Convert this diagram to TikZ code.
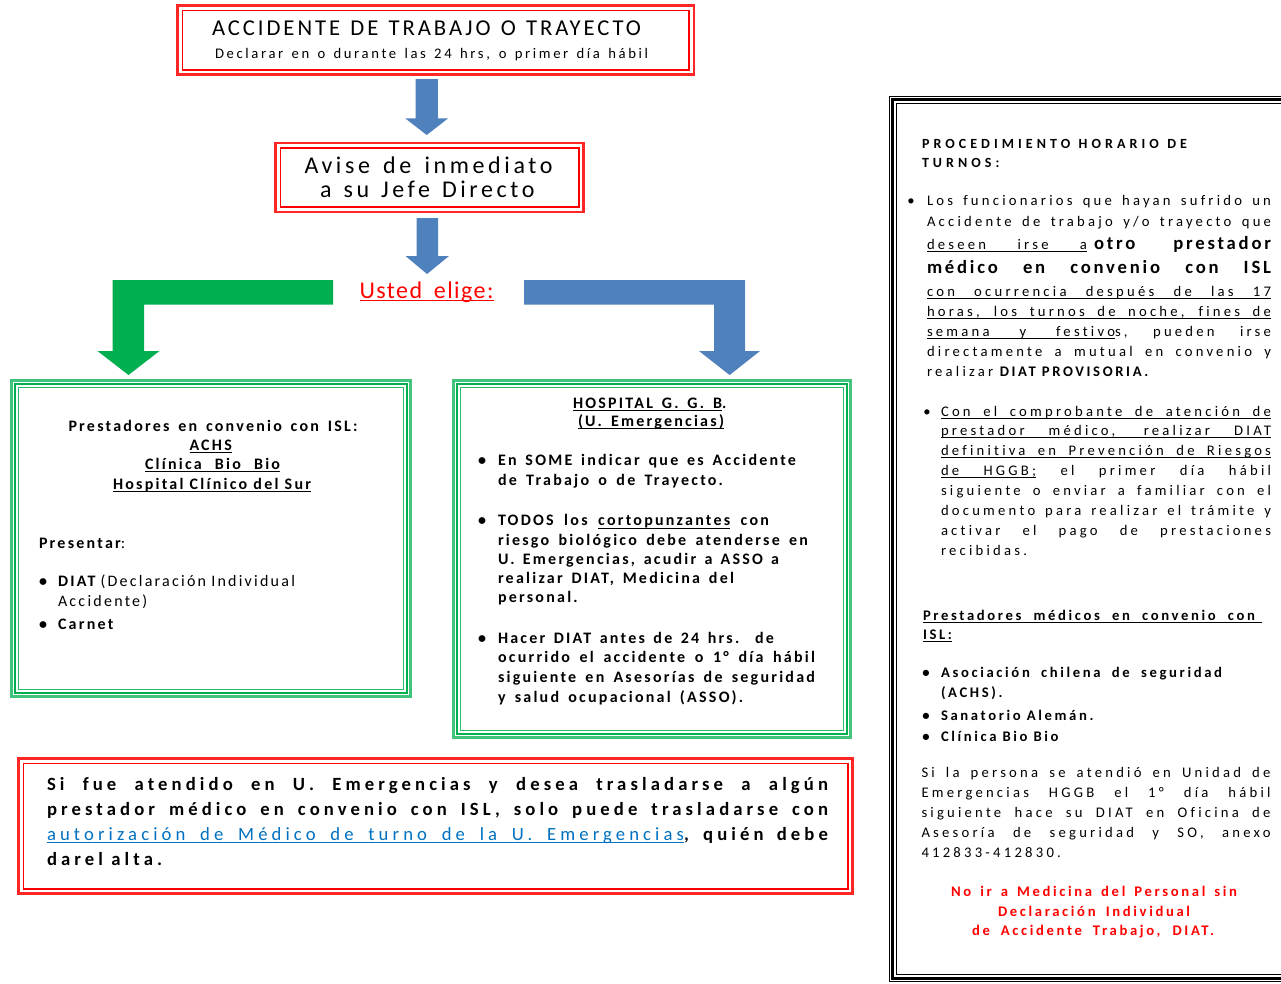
\documentclass[tikz,border=0pt]{standalone}
\usepackage{fontspec}
\setmainfont{Carlito}[Ligatures=NoCommon]
\usetikzlibrary{fit}
\definecolor{wred}{HTML}{FF0000}
\definecolor{wgreen}{HTML}{00B050}
\definecolor{wblue}{HTML}{4F81BD}
\definecolor{lblue}{HTML}{0070C0}
\newdimen\pxu \pxu=0.75pt
\newcommand\J[2]{\makebox[#1\pxu][s]{#2}}
\newcommand\ul[1]{{\setbox0=\hbox{#1}\rlap{\rule[-2.2pt]{\wd0}{0.85pt}}\box0}}
\newcommand\fTitle{\mdseries\fontsize{17}{20}\selectfont\addfontfeature{LetterSpace=13}}
\newcommand\fSub{\mdseries\fontsize{11}{13}\selectfont\addfontfeature{LetterSpace=18}}
\newcommand\fBig{\mdseries\fontsize{18}{21}\selectfont\addfontfeature{LetterSpace=15}}
\newcommand\fUst{\mdseries\fontsize{18}{21}\selectfont\addfontfeature{LetterSpace=6}}
\newcommand\fL{\bfseries\fontsize{12}{14}\selectfont\addfontfeature{LetterSpace=14}}
\newcommand\fLm{\mdseries\fontsize{12}{14}\selectfont\addfontfeature{LetterSpace=14}}
\newcommand\fM{\bfseries\fontsize{12}{14}\selectfont\addfontfeature{LetterSpace=14}}
\newcommand\fB{\bfseries\fontsize{14}{16}\selectfont\addfontfeature{LetterSpace=22}}
\newcommand\fBm{\mdseries\fontsize{14}{16}\selectfont\addfontfeature{LetterSpace=22}}
\newcommand\fR{\mdseries\fontsize{11}{13}\selectfont\addfontfeature{LetterSpace=22}}
\newcommand\fRb{\bfseries\fontsize{11}{13}\selectfont\addfontfeature{LetterSpace=18}}
\newcommand\fRh{\bfseries\fontsize{10.5}{12}\selectfont\addfontfeature{LetterSpace=29}}
\newcommand\fRB{\bfseries\fontsize{14}{16}\selectfont\addfontfeature{LetterSpace=15}}
\newcommand\fRr{\bfseries\fontsize{11}{13}\selectfont\addfontfeature{LetterSpace=18}}
\newcommand\redframe[1]{%
 \draw[wred!85, line width=1.8pt] ([shift={(1.6,1.6)}]#1.north west) rectangle ([shift={(-1.6,-1.6)}]#1.south east);
 \draw[wred, line width=1.2pt] ([shift={(6.3,6.3)}]#1.north west) rectangle ([shift={(-6.3,-6.3)}]#1.south east);}
\newcommand\greenframe[1]{%
 \draw[wgreen!75, line width=1.9pt] ([shift={(1.5,1.5)}]#1.north west) rectangle ([shift={(-1.5,-1.5)}]#1.south east);
 \draw[wgreen, line width=1.5pt] ([shift={(5.2,5.2)}]#1.north west) rectangle ([shift={(-5.2,-5.2)}]#1.south east);
 \draw[wgreen!85, line width=1.1pt] ([shift={(8.5,8.5)}]#1.north west) rectangle ([shift={(-8.5,-8.5)}]#1.south east);}
\newcommand\blackframe[1]{%
 \draw[black, line width=0.9pt] ([shift={(0.5,0.5)}]#1.north west) rectangle ([shift={(-0.5,-0.5)}]#1.south east);
 \draw[black, line width=2.25pt] ([shift={(3.5,3.5)}]#1.north west) rectangle ([shift={(-3.5,-3.5)}]#1.south east);
 \draw[black, line width=0.9pt] ([shift={(7.5,7.5)}]#1.north west) rectangle ([shift={(-7.5,-7.5)}]#1.south east);}
\tikzset{
 tx/.style={anchor=base west, inner sep=0pt, outer sep=0pt},
 bul/.style={anchor=base, inner sep=0pt, outer sep=0pt},
 blockarrow/.style={fill=wblue, draw=none},
 greenarrow/.style={fill=wgreen, draw=none},
 frame/.style={inner sep=0pt, outer sep=0pt}
}
\begin{document}
\begin{tikzpicture}[x=0.75pt,y=-0.75pt]
\fill[white] (0,0) rectangle (1281,983);
\useasboundingbox (0,0) rectangle (1281,983);

% ---------- boxes ----------
\node[frame, fit={(176,4)(695.5,76)}] (boxA) {};
\node[frame, fit={(274,141.5)(585,213.3)}] (boxB) {};
\node[frame, fit={(10,379)(412,698)}] (boxL) {};
\node[frame, fit={(452,379)(852,739)}] (boxM) {};
\node[frame, fit={(17,757)(854,895)}] (boxC) {};
\node[frame, fit={(889,96)(1300,982)}] (boxR) {};
\redframe{boxA}
\redframe{boxB}
\redframe{boxC}
\greenframe{boxL}
\greenframe{boxM}
\begin{scope}
\clip (0,0) rectangle (1281,983);
\blackframe{boxR}
\end{scope}

% ---------- block arrows ----------
\fill[blockarrow] (415.5,79) -- (437.9,79) -- (437.9,118.3) -- (448.2,118.3) -- (426.7,135) -- (405.2,118.3) -- (415.5,118.3) -- cycle;
\fill[blockarrow] (416.5,218) -- (438,218) -- (438,256) -- (449,256) -- (427,274) -- (405.5,256) -- (416.5,256) -- cycle;
\fill[greenarrow] (333,280) -- (112.7,280) -- (112.7,351) -- (97.5,351) -- (128.5,375) -- (159.5,351) -- (144,351) -- (144,304.5) -- (333,304.5) -- cycle;
\fill[blockarrow] (524,280) -- (745,280) -- (745,351) -- (760,351) -- (729.6,375) -- (699,351) -- (714,351) -- (714,304.5) -- (524,304.5) -- cycle;

% ---------- top boxes ----------
\node[tx, font=\fTitle] (t1) at (212,35) {\J{429}{ACCIDENTE DE TRABAJO O TRAYECTO}};
\node[tx, font=\fSub] (t2) at (215,58.5) {\J{433}{Declarar en o durante las 24 hrs, o primer día hábil}};
\node[tx, font=\fBig] (b1) at (304.5,173.3) {\J{248}{Avise de inmediato}};
\node[tx, font=\fBig] (b2) at (320,197) {\J{214.5}{a su Jefe Directo}};
\node[tx, font=\fUst, text=wred] (u1) at (359.5,298.3) {\ul{\J{134}{Usted elige:}}};

% ---------- left box ----------
\node[tx, font=\fL] (l1) at (68.5,431) {\J{289}{Prestadores en convenio con ISL:}};
\node[tx, font=\fL] (l2) at (189.5,450) {\ul{ACHS}};
\node[tx, font=\fL] (l3) at (145,469) {\ul{\J{135}{Clínica Bio Bio}}};
\node[tx, font=\fL] (l4) at (113,489) {\ul{\J{198}{Hospital Clínico del Sur}}};
\node[tx, font=\fL] (l5) at (39,548) {Presentar{\fLm:}};
\node[bul, font=\fL] (lb1) at (43,586) {•};
\node[tx, font=\fL] (l6) at (58,586) {\J{237}{DIAT {\fLm (Declaración Individual}}};
\node[tx, font=\fLm] (l7) at (58,606) {Accidente)};
\node[bul, font=\fL] (lb2) at (43,629) {•};
\node[tx, font=\fL] (l8) at (58,629) {Carnet};

% ---------- middle box ----------
\node[tx, font=\fM] (m1) at (573,408.3) {\ul{\J{149}{HOSPITAL G. G. B}}.};
\node[tx, font=\fM] (m2) at (578,426) {\ul{\J{146}{(U. Emergencias)}}};
\node[bul, font=\fM] (mb1) at (482,465) {•};
\node[tx, font=\fM] (m3) at (498,465) {\J{298}{En SOME indicar que es Accidente}};
\node[tx, font=\fM] (m4) at (498,485) {\J{225}{de Trabajo o de Trayecto.}};
\node[bul, font=\fM] (mb2) at (482,525.7) {•};
\node[tx, font=\fM] (m5) at (498,525.7) {\J{271}{TODOS los \ul{cortopunzantes} con}};
\node[tx, font=\fM] (m6) at (498,545) {\J{310}{riesgo biológico debe atenderse en}};
\node[tx, font=\fM] (m7) at (498,564.3) {\J{281}{U. Emergencias, acudir a ASSO a}};
\node[tx, font=\fM] (m8) at (498,583.3) {\J{236}{realizar DIAT, Medicina del}};
\node[tx, font=\fM] (m9) at (498,602.7) {personal.};
\node[bul, font=\fM] (mb3) at (482,643.3) {•};
\node[tx, font=\fM] (m10) at (498,643.3) {\J{276}{Hacer DIAT antes de 24 hrs. de}};
\node[tx, font=\fM] (m11) at (498,662.7) {\J{317}{ocurrido el accidente o 1° día hábil}};
\node[tx, font=\fM] (m12) at (498,682.3) {\J{317}{siguiente en Asesorías de seguridad}};
\node[tx, font=\fM] (m13) at (498,702.3) {\J{245}{y salud ocupacional (ASSO).}};

% ---------- bottom box ----------
\node[tx, font=\fB] (o1) at (47,790) {\J{781}{Si fue atendido en U. Emergencias y desea trasladarse a algún}};
\node[tx, font=\fB] (o2) at (47,815) {\J{781}{prestador médico en convenio con ISL, solo puede trasladarse con}};
\node[tx, font=\fB] (o3) at (47,840) {\J{781}{{\fBm\color{lblue}\ul{\J{637}{autorización de Médico de turno de la U. Emergencias}}}, quién debe}};
\node[tx, font=\fB] (o4) at (47,865) {darel alta.};

% ---------- right box ----------
\node[tx, font=\fRh] (h1) at (922,148) {\J{265}{PROCEDIMIENTO HORARIO DE}};
\node[tx, font=\fRh] (h2) at (922,167) {TURNOS:};
\node[bul, font=\fR] (rb1) at (911,205) {•};
\node[tx, font=\fR] (r1) at (927,205) {\J{344}{Los funcionarios que hayan sufrido un}};
\node[tx, font=\fR] (r2) at (927,226) {\J{344}{Accidente de trabajo y/o trayecto que}};
\node[tx, font=\fR] (r3) at (927,249.5) {\J{344}{\ul{\J{160}{deseen irse a}}\hspace*{7\pxu}{\fRB otro}\hfill{\fRB prestador}}};
\node[tx, font=\fRB] (r4) at (927,273.5) {\J{344}{médico en convenio con ISL}};
\node[tx, font=\fR] (r5) at (927,296) {\ul{\J{344}{con ocurrencia después de las 17}}};
\node[tx, font=\fR] (r6) at (927,316) {\ul{\J{344}{horas, los turnos de noche, fines de}}};
\node[tx, font=\fR] (r7) at (927,336) {\J{344}{\ul{\J{188}{semana y festivo}}s,\hfill pueden\hfill irse}};
\node[tx, font=\fR] (r8) at (927,356) {\J{344}{directamente a mutual en convenio y}};
\node[tx, font=\fR] (r9) at (927,376) {realizar {\fRb DIAT PROVISORIA.}};

\node[bul, font=\fR] (rb2) at (927,416) {•};
\node[tx, font=\fR] (s1) at (941,416) {\ul{\J{330}{Con el comprobante de atención de}}};
\node[tx, font=\fR] (s2) at (941,435.5) {\ul{\J{330}{prestador médico, realizar DIAT}}};
\node[tx, font=\fR] (s3) at (941,455.5) {\ul{\J{330}{definitiva en Prevención de Riesgos}}};
\node[tx, font=\fR] (s4) at (941,475.5) {\J{330}{\ul{\J{95}{de HGGB;}}\hfill el\hfill primer\hfill día\hfill hábil}};
\node[tx, font=\fR] (s5) at (941,495) {\J{330}{siguiente o enviar a familiar con el}};
\node[tx, font=\fR] (s6) at (941,515) {\J{330}{documento para realizar el trámite y}};
\node[tx, font=\fR] (s7) at (941,535) {\J{330}{activar el pago de prestaciones}};
\node[tx, font=\fR] (s8) at (941,555) {recibidas.};

\node[tx, font=\fRb] (p1) at (923,620) {\ul{\makebox[339\pxu][l]{\J{332}{Prestadores médicos en convenio con}}}};
\node[tx, font=\fRb] (p2) at (923,639) {\ul{ISL:}};
\node[bul, font=\fRb] (pb1) at (926,677) {•};
\node[tx, font=\fRb] (p3) at (941,677) {\J{281}{Asociación chilena de seguridad}};
\node[tx, font=\fRb] (p4) at (941,697) {(ACHS).};
\node[bul, font=\fRb] (pb2) at (926,720) {•};
\node[tx, font=\fRb] (p5) at (941,720) {Sanatorio Alemán.};
\node[bul, font=\fRb] (pb3) at (926,741) {•};
\node[tx, font=\fRb] (p6) at (941,741) {Clínica Bio Bio};

\node[tx, font=\fR] (q1) at (921.5,777) {\J{349}{Si la persona se atendió en Unidad de}};
\node[tx, font=\fR] (q2) at (921.5,797) {\J{349}{Emergencias HGGB el 1° día hábil}};
\node[tx, font=\fR] (q3) at (921.5,817) {\J{349}{siguiente hace su DIAT en Oficina de}};
\node[tx, font=\fR] (q4) at (921.5,837) {\J{349}{Asesoría de seguridad y SO, anexo}};
\node[tx, font=\fR] (q5) at (921.5,857) {412833-412830.};

\node[tx, font=\fRr, text=wred] (w1) at (951,896) {\J{286}{No ir a Medicina del Personal sin}};
\node[tx, font=\fRr, text=wred] (w2) at (998,916) {\J{192}{Declaración Individual}};
\node[tx, font=\fRr, text=wred] (w3) at (972,935) {\J{242}{de Accidente Trabajo, DIAT.}};
\end{tikzpicture}
\end{document}
